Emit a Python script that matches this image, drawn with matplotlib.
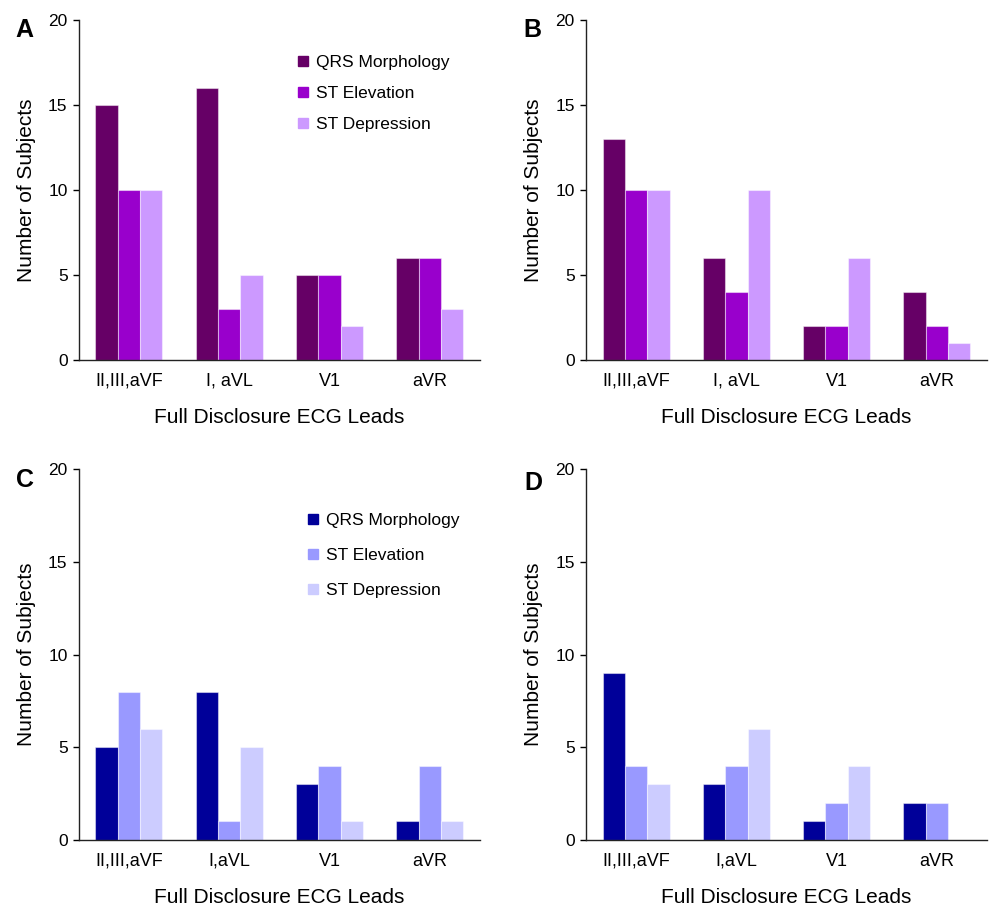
import numpy as np
import matplotlib
matplotlib.use("Agg")
import matplotlib.pyplot as plt
from matplotlib.lines import Line2D

plt.rcParams['font.family'] = ['Liberation Sans', 'DejaVu Sans']

series_names = ["QRS Morphology", "ST Elevation", "ST Depression"]
leads_ab = ["II,III,aVF", "I, aVL", "V1", "aVR"]
leads_cd = ["II,III,aVF", "I,aVL", "V1", "aVR"]

# panel A
qrs_a = [15, 16, 5, 6]
ste_a = [10, 3, 5, 6]
std_a = [10, 5, 2, 3]
# panel B
qrs_b = [13, 6, 2, 4]
ste_b = [10, 4, 2, 2]
std_b = [10, 10, 6, 1]
# panel C
qrs_c = [5, 8, 3, 1]
ste_c = [8, 1, 4, 4]
std_c = [6, 5, 1, 1]
# panel D
qrs_d = [9, 3, 1, 2]
ste_d = [4, 4, 2, 2]
std_d = [3, 6, 4, 0]

purples = ["#660066", "#9900CC", "#CC99FF"]
blues = ["#000099", "#9999FF", "#CCCCFF"]

W, H = 989, 906
fig = plt.figure(figsize=(W / 100, H / 100), dpi=100)


def panel(rect, leads, vals, colors, letter, letter_xy, legend_at=None, spacing=0.9):
    ax = fig.add_axes(rect)
    x = np.arange(len(leads))
    bw = 0.223
    for i, (v, c) in enumerate(zip(vals, colors)):
        ax.bar(x + (i - 1) * bw, v, width=bw, color=c,
               edgecolor=(1, 1, 1, 0.45), linewidth=0.8)
    ax.set_xlim(-0.5, 3.5)
    ax.set_ylim(0, 20)
    ax.set_yticks([0, 5, 10, 15, 20])
    ax.set_xticks(x)
    ax.set_xticklabels(leads, fontsize=13)
    ax.tick_params(axis='x', length=0, pad=9)
    ax.tick_params(axis='y', length=4, width=1, pad=4, labelsize=12.5)
    for s in ['top', 'right']:
        ax.spines[s].set_visible(False)
    for s in ['left', 'bottom']:
        ax.spines[s].set_linewidth(1.0)
        ax.spines[s].set_color('#222222')
    ax.set_xlabel("Full Disclosure ECG Leads", fontsize=15, labelpad=13)
    ax.set_ylabel("Number of Subjects", fontsize=15, labelpad=9)
    fig.text(letter_xy[0] / W, 1 - letter_xy[1] / H, letter, fontsize=18,
             fontweight='bold', ha='center', va='center')
    if legend_at is not None:
        handles = [Line2D([], [], marker='s', linestyle='', color=c,
                          markersize=7) for c in colors]
        ax.legend(handles, series_names, loc='upper left', frameon=False,
                  bbox_to_anchor=(legend_at[0] / W, 1 - legend_at[1] / H),
                  bbox_transform=fig.transFigure, fontsize=12.5,
                  handletextpad=0.2, labelspacing=spacing, borderpad=0,
                  handlelength=1.0)
    return ax


top_h = 0.3753
bot_h = 0.4095
panel([0.0796, 0.6026, 0.4057, top_h], leads_ab, [qrs_a, ste_a, std_a],
      purples, "A", (24, 30), legend_at=(286, 46), spacing=0.93)
panel([0.5925, 0.6026, 0.4055, top_h], leads_ab, [qrs_b, ste_b, std_b],
      purples, "B", (532, 30))
panel([0.0796, 0.0728, 0.4057, bot_h], leads_cd, [qrs_c, ste_c, std_c],
      blues, "C", (25, 480), legend_at=(296, 504), spacing=1.15)
panel([0.5925, 0.0728, 0.4055, bot_h], leads_cd, [qrs_d, ste_d, std_d],
      blues, "D", (533, 483))

fig.savefig("out.png", dpi=100)
